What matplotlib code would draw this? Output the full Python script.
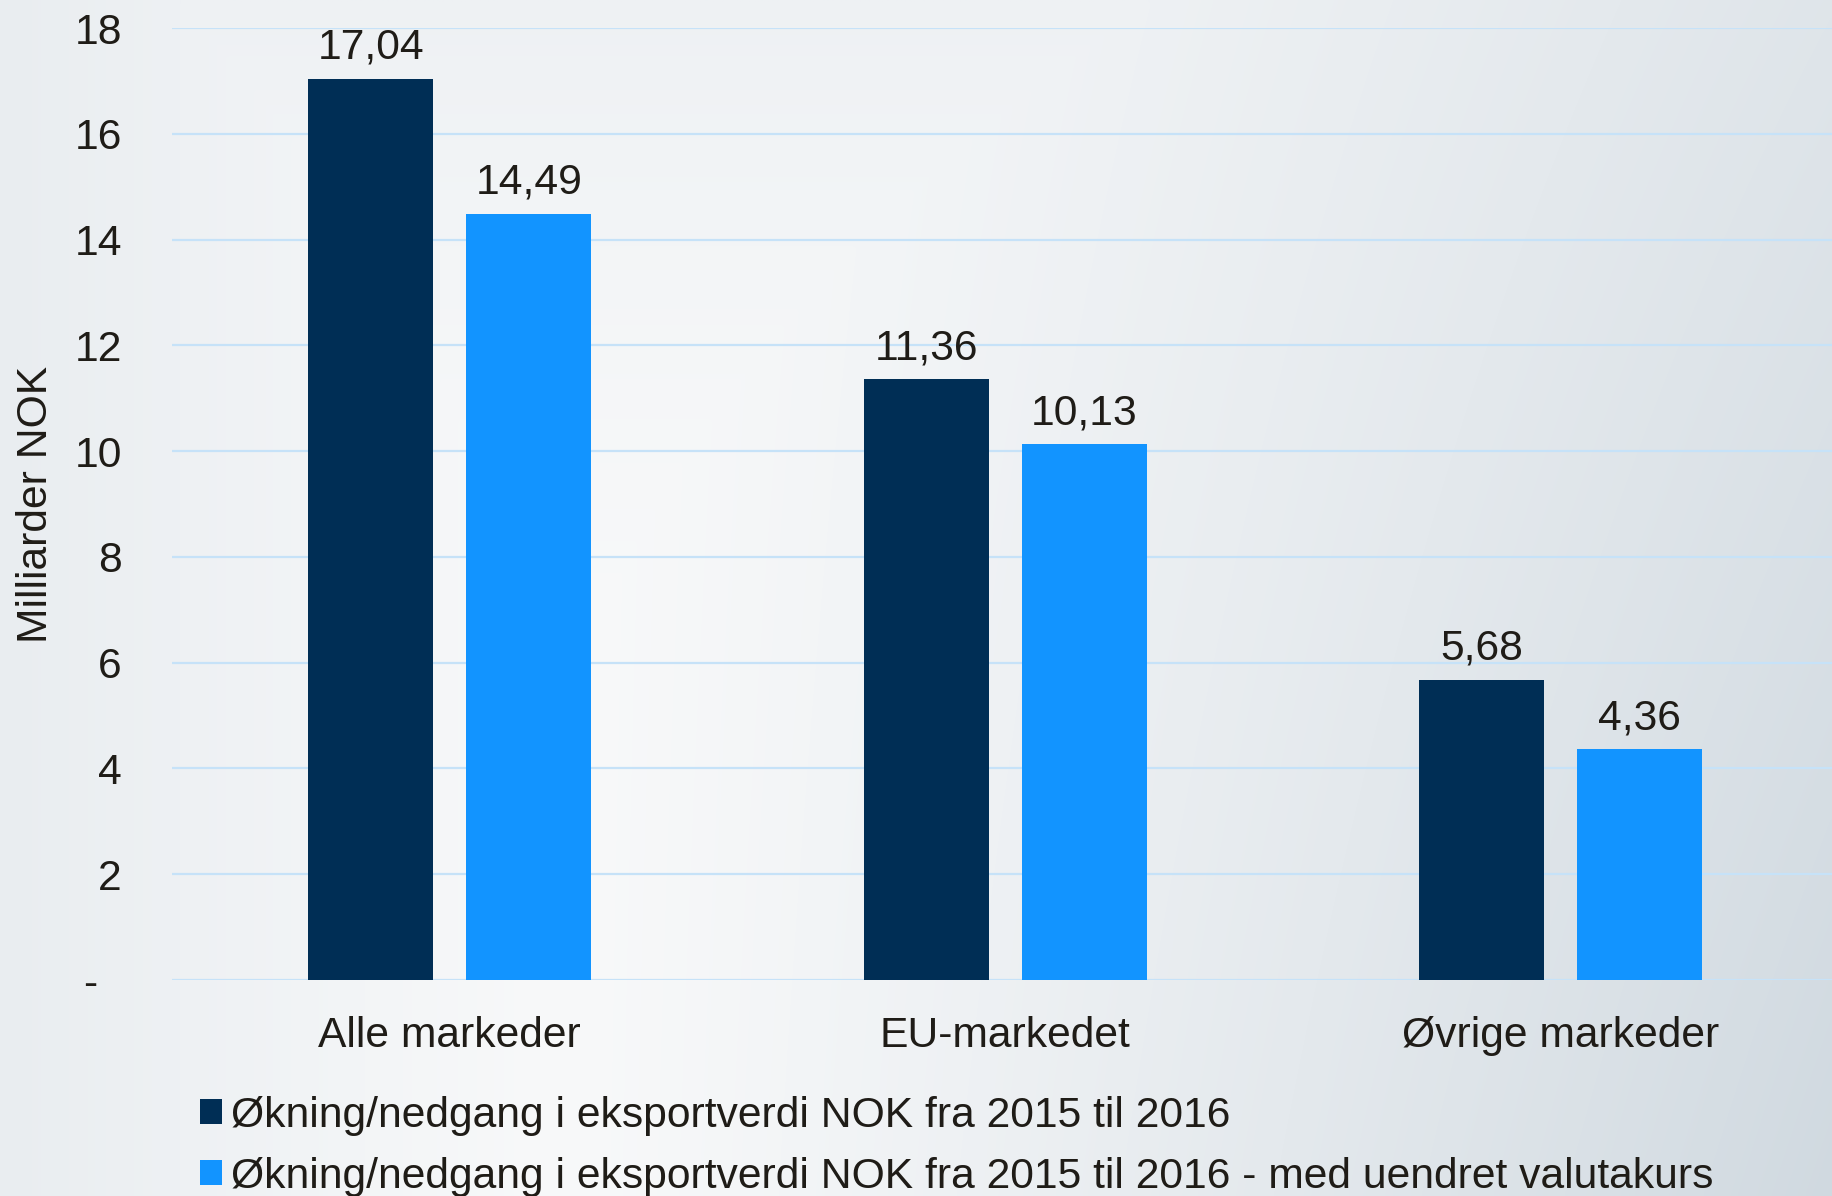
import numpy as np
import matplotlib
matplotlib.use("Agg")
import matplotlib.pyplot as plt
from matplotlib.colors import to_rgb

# ---- data ----
categories = ["Alle markeder", "EU-markedet", "Øvrige markeder"]
series_names = [
    "Økning/nedgang i eksportverdi NOK fra 2015 til 2016",
    "Økning/nedgang i eksportverdi NOK fra 2015 til 2016 - med uendret valutakurs",
]
values_nok = [17.04, 11.36, 5.68]
values_fixed_fx = [14.49, 10.13, 4.36]
y_ticks = [0, 2, 4, 6, 8, 10, 12, 14, 16, 18]
y_tick_labels = ["-  ", "2", "4", "6", "8", "10", "12", "14", "16", "18"]
y_label = "Milliarder NOK"

# ---- style ----
plt.rcParams["font.family"] = ["Liberation Sans", "DejaVu Sans"]
TEXT = "#1F1C17"
DARK = "#002E55"
LIGHT = "#1294FF"
GRID = "#C6E2F8"
FS = 30.7

W, H = 1833, 1196
fig = plt.figure(figsize=(W / 100, H / 100), dpi=100)

# background gradient
bg = fig.add_axes([0, 0, 1, 1], zorder=-10)
xs = np.linspace(0, 1, 400)
ys = np.linspace(0, 1, 300)
X, Y = np.meshgrid(xs, ys)  # Y = 0 at top
right = np.where(X > 0.3, ((X - 0.3) / 0.7).clip(0) ** 1.2, 0) * 0.62 * (1 + 0.6 * Y)
left = np.where(X < 0.3, (0.3 - X) / 0.3, 0) * 0.37
top = np.where(Y < 0.7, (1 - Y / 0.7) ** 2, 0) * 0.25
D = np.maximum(np.maximum(right, left), top).clip(0, 1)
c0 = np.array(to_rgb("#F8F9FA"))
c1 = np.array(to_rgb("#D0D9E0"))
img = c0[None, None, :] * (1 - D[..., None]) + c1[None, None, :] * D[..., None]
bg.imshow(img, aspect="auto", extent=[0, 1, 1, 0], interpolation="bilinear")
bg.set_xlim(0, 1)
bg.set_ylim(1, 0)
bg.axis("off")

# main axes
ax_left = 172 / W
ax_w = 3 * 555.5 / W
ax_bottom = 1 - 980 / H
ax_h = (980 - 28) / H
ax = fig.add_axes([ax_left, ax_bottom, ax_w, ax_h])
ax.set_facecolor("none")

x = np.arange(len(categories))
bw = 0.225
off = 0.1422
b1 = ax.bar(x - off, values_nok, bw, color=DARK, label=series_names[0], zorder=3)
b2 = ax.bar(x + off, values_fixed_fx, bw, color=LIGHT, label=series_names[1], zorder=3)

fmt = lambda v: f"{v:.2f}".replace(".", ",")
ax.bar_label(b1, labels=[fmt(v) for v in values_nok], padding=8, fontsize=FS, color=TEXT)
ax.bar_label(b2, labels=[fmt(v) for v in values_fixed_fx], padding=8, fontsize=FS, color=TEXT)

ax.set_xlim(-0.5, len(categories) - 0.5)
ax.set_ylim(0, 18)
ax.set_yticks(y_ticks)
ax.set_yticklabels(y_tick_labels)
ax.set_xticks(x)
ax.set_xticklabels(categories)
ax.tick_params(axis="y", length=0, pad=36, labelsize=FS, labelcolor=TEXT)
ax.tick_params(axis="x", length=0, pad=26, labelsize=FS, labelcolor=TEXT)
ax.grid(axis="y", color=GRID, linewidth=1.6, zorder=0)
ax.set_axisbelow(True)
for s in ax.spines.values():
    s.set_visible(False)

ax.set_ylabel(y_label, fontsize=FS, color=TEXT)
ax.yaxis.set_label_coords((56 - 172) / ax_w / W, 0.5)

fig.legend(handles=[b1, b2], loc="upper left",
           bbox_to_anchor=(200 / W, 1 - 1095.5 / H), frameon=False,
           fontsize=FS, handlelength=0.52, handleheight=0.52,
           handletextpad=0.2, labelspacing=0.5, borderpad=0, borderaxespad=0,
           labelcolor=TEXT)

fig.savefig("out.png", dpi=100)
